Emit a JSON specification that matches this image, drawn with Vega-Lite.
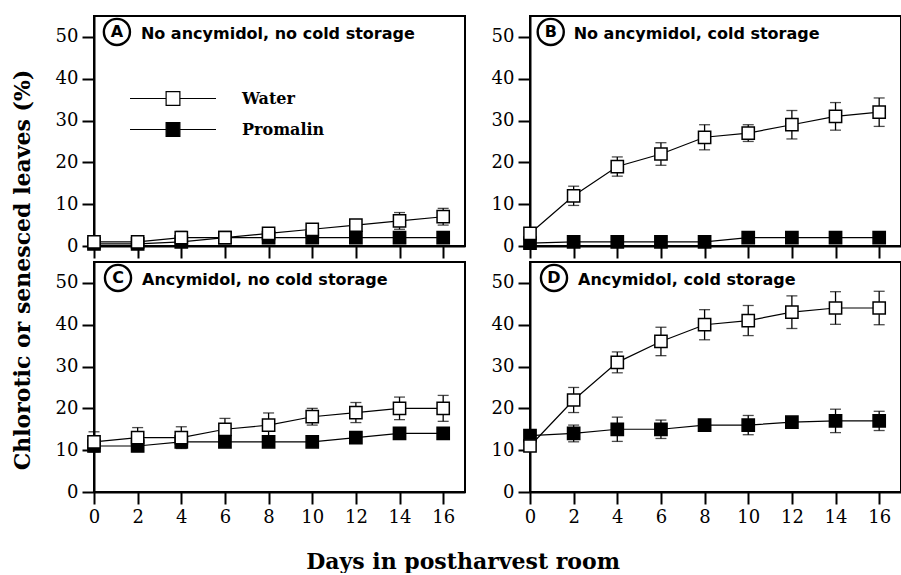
{
  "$schema": "https://vega.github.io/schema/vega-lite/v6.json",
  "background": "white",
  "padding": {"left": 12, "top": 13, "right": 0, "bottom": 0},
  "title": {"text": "Days in postharvest room", "orient": "bottom", "anchor": "middle", "font": "DejaVu Serif", "fontSize": 22, "fontWeight": "bold", "color": "black", "offset": 25, "dx": 6},
  "hconcat": [
    {
      "title": {"text": "Chlorotic or senesced leaves (%)", "orient": "left", "anchor": "middle", "font": "DejaVu Serif", "fontSize": 22, "fontWeight": "bold", "color": "black", "offset": 19},
      "columns": 2,
      "bounds": "flush",
      "spacing": {"row": 16, "column": 65},
      "resolve": {"scale": {"fill": "independent"}, "legend": {"fill": "independent"}},
      "concat": [
        {
          "width": 371, "height": 230,
          "layer": [
            {"data": {"name": "obs"}, "transform": [{"filter": "datum.panel === 'A'"}],
             "mark": {"type": "errorbar", "ticks": {"size": 11, "thickness": 1.3}, "thickness": 1.3, "color": "black"},
             "encoding": {
               "x": {"field": "day", "type": "quantitative", "scale": {"domain": [0, 17], "nice": false, "zero": false}, "axis": {"values": [0, 2, 4, 6, 8, 10, 12, 14, 16], "labels": false, "title": null, "labelFlush": false, "labelFont": "DejaVu Serif", "labelFontSize": 18}},
               "y": {"field": "mean", "type": "quantitative", "scale": {"domain": [0, 55], "nice": false}, "axis": {"values": [0, 10, 20, 30, 40, 50], "title": null, "labelFlush": false, "labelOverlap": false, "labelFont": "DejaVu Serif", "labelFontSize": 18}},
               "yError": {"field": "err"}}},
            {"data": {"name": "obs"}, "transform": [{"filter": "datum.panel === 'A'"}],
             "mark": {"type": "line", "color": "black", "strokeWidth": 1.2},
             "encoding": {"x": {"field": "day", "type": "quantitative"}, "y": {"field": "mean", "type": "quantitative"}, "detail": {"field": "treatment"}}},
            {"data": {"name": "obs"}, "transform": [{"filter": "datum.panel === 'A'"}],
             "mark": {"type": "point", "shape": "square", "size": 150, "filled": true, "opacity": 1, "stroke": "black", "strokeWidth": 1.5},
             "encoding": {"x": {"field": "day", "type": "quantitative"}, "y": {"field": "mean", "type": "quantitative"},
               "fill": {"field": "treatment", "type": "nominal", "scale": {"domain": ["Water", "Promalin"], "range": ["white", "black"]},
                 "legend": {"orient": "none", "legendX": 35, "legendY": 74, "title": null, "symbolType": "M-1,0H-0.16M0.16,0H1M-0.16,-0.16H0.16V0.16H-0.16Z", "symbolSize": 7400, "symbolStrokeColor": "black", "symbolStrokeWidth": 1.2, "symbolOpacity": 1, "clipHeight": 17, "labelFont": "DejaVu Serif", "labelFontWeight": "bold", "labelFontSize": 16, "labelColor": "black", "labelOffset": 25, "rowPadding": 14}}}},
            {"data": {"name": "panels"}, "transform": [{"filter": "datum.panel === 'A'"}],
             "mark": {"type": "point", "shape": "circle", "size": 680, "filled": false, "opacity": 1, "stroke": "black", "strokeWidth": 2.4},
             "encoding": {"x": {"datum": 1.05}, "y": {"datum": 51.2}}},
            {"data": {"name": "panels"}, "transform": [{"filter": "datum.panel === 'A'"}],
             "mark": {"type": "text", "font": "DejaVu Sans", "fontWeight": "bold", "fontSize": 16, "align": "center", "baseline": "middle", "color": "black"},
             "encoding": {"x": {"datum": 1.05}, "y": {"datum": 51.2}, "text": {"field": "letter"}}},
            {"data": {"name": "panels"}, "transform": [{"filter": "datum.panel === 'A'"}],
             "mark": {"type": "text", "font": "DejaVu Sans", "fontWeight": "bold", "fontSize": 16, "align": "left", "baseline": "alphabetic", "color": "black"},
             "encoding": {"x": {"datum": 2.15}, "y": {"datum": 49.5}, "text": {"field": "label"}}}
          ]
        },
        {
          "width": 371, "height": 230,
          "layer": [
            {"data": {"name": "obs"}, "transform": [{"filter": "datum.panel === 'B'"}],
             "mark": {"type": "errorbar", "ticks": {"size": 11, "thickness": 1.3}, "thickness": 1.3, "color": "black"},
             "encoding": {
               "x": {"field": "day", "type": "quantitative", "scale": {"domain": [0, 17], "nice": false, "zero": false}, "axis": {"values": [0, 2, 4, 6, 8, 10, 12, 14, 16], "labels": false, "title": null, "labelFlush": false, "labelFont": "DejaVu Serif", "labelFontSize": 18}},
               "y": {"field": "mean", "type": "quantitative", "scale": {"domain": [0, 55], "nice": false}, "axis": {"values": [0, 10, 20, 30, 40, 50], "title": null, "labelFlush": false, "labelOverlap": false, "labelFont": "DejaVu Serif", "labelFontSize": 18}},
               "yError": {"field": "err"}}},
            {"data": {"name": "obs"}, "transform": [{"filter": "datum.panel === 'B'"}],
             "mark": {"type": "line", "color": "black", "strokeWidth": 1.2},
             "encoding": {"x": {"field": "day", "type": "quantitative"}, "y": {"field": "mean", "type": "quantitative"}, "detail": {"field": "treatment"}}},
            {"data": {"name": "obs"}, "transform": [{"filter": "datum.panel === 'B'"}],
             "mark": {"type": "point", "shape": "square", "size": 150, "filled": true, "opacity": 1, "stroke": "black", "strokeWidth": 1.5},
             "encoding": {"x": {"field": "day", "type": "quantitative"}, "y": {"field": "mean", "type": "quantitative"},
               "fill": {"field": "treatment", "type": "nominal", "scale": {"domain": ["Water", "Promalin"], "range": ["white", "black"]}, "legend": null}}},
            {"data": {"name": "panels"}, "transform": [{"filter": "datum.panel === 'B'"}],
             "mark": {"type": "point", "shape": "circle", "size": 680, "filled": false, "opacity": 1, "stroke": "black", "strokeWidth": 2.4},
             "encoding": {"x": {"datum": 0.95}, "y": {"datum": 51.2}}},
            {"data": {"name": "panels"}, "transform": [{"filter": "datum.panel === 'B'"}],
             "mark": {"type": "text", "font": "DejaVu Sans", "fontWeight": "bold", "fontSize": 16, "align": "center", "baseline": "middle", "color": "black"},
             "encoding": {"x": {"datum": 0.95}, "y": {"datum": 51.2}, "text": {"field": "letter"}}},
            {"data": {"name": "panels"}, "transform": [{"filter": "datum.panel === 'B'"}],
             "mark": {"type": "text", "font": "DejaVu Sans", "fontWeight": "bold", "fontSize": 16, "align": "left", "baseline": "alphabetic", "color": "black"},
             "encoding": {"x": {"datum": 2.0}, "y": {"datum": 49.5}, "text": {"field": "label"}}}
          ]
        },
        {
          "width": 371, "height": 230,
          "layer": [
            {"data": {"name": "obs"}, "transform": [{"filter": "datum.panel === 'C'"}],
             "mark": {"type": "errorbar", "ticks": {"size": 11, "thickness": 1.3}, "thickness": 1.3, "color": "black"},
             "encoding": {
               "x": {"field": "day", "type": "quantitative", "scale": {"domain": [0, 17], "nice": false, "zero": false}, "axis": {"values": [0, 2, 4, 6, 8, 10, 12, 14, 16], "labels": true, "title": null, "labelFlush": false, "labelFont": "DejaVu Serif", "labelFontSize": 18}},
               "y": {"field": "mean", "type": "quantitative", "scale": {"domain": [0, 55], "nice": false}, "axis": {"values": [0, 10, 20, 30, 40, 50], "title": null, "labelFlush": false, "labelOverlap": false, "labelFont": "DejaVu Serif", "labelFontSize": 18}},
               "yError": {"field": "err"}}},
            {"data": {"name": "obs"}, "transform": [{"filter": "datum.panel === 'C'"}],
             "mark": {"type": "line", "color": "black", "strokeWidth": 1.2},
             "encoding": {"x": {"field": "day", "type": "quantitative"}, "y": {"field": "mean", "type": "quantitative"}, "detail": {"field": "treatment"}}},
            {"data": {"name": "obs"}, "transform": [{"filter": "datum.panel === 'C'"}],
             "mark": {"type": "point", "shape": "square", "size": 150, "filled": true, "opacity": 1, "stroke": "black", "strokeWidth": 1.5},
             "encoding": {"x": {"field": "day", "type": "quantitative"}, "y": {"field": "mean", "type": "quantitative"},
               "fill": {"field": "treatment", "type": "nominal", "scale": {"domain": ["Water", "Promalin"], "range": ["white", "black"]}, "legend": null}}},
            {"data": {"name": "panels"}, "transform": [{"filter": "datum.panel === 'C'"}],
             "mark": {"type": "point", "shape": "circle", "size": 680, "filled": false, "opacity": 1, "stroke": "black", "strokeWidth": 2.4},
             "encoding": {"x": {"datum": 1.1}, "y": {"datum": 51.2}}},
            {"data": {"name": "panels"}, "transform": [{"filter": "datum.panel === 'C'"}],
             "mark": {"type": "text", "font": "DejaVu Sans", "fontWeight": "bold", "fontSize": 16, "align": "center", "baseline": "middle", "color": "black"},
             "encoding": {"x": {"datum": 1.1}, "y": {"datum": 51.2}, "text": {"field": "letter"}}},
            {"data": {"name": "panels"}, "transform": [{"filter": "datum.panel === 'C'"}],
             "mark": {"type": "text", "font": "DejaVu Sans", "fontWeight": "bold", "fontSize": 16, "align": "left", "baseline": "alphabetic", "color": "black"},
             "encoding": {"x": {"datum": 2.2}, "y": {"datum": 49.5}, "text": {"field": "label"}}}
          ]
        },
        {
          "width": 371, "height": 230,
          "layer": [
            {"data": {"name": "obs"}, "transform": [{"filter": "datum.panel === 'D'"}],
             "mark": {"type": "errorbar", "ticks": {"size": 11, "thickness": 1.3}, "thickness": 1.3, "color": "black"},
             "encoding": {
               "x": {"field": "day", "type": "quantitative", "scale": {"domain": [0, 17], "nice": false, "zero": false}, "axis": {"values": [0, 2, 4, 6, 8, 10, 12, 14, 16], "labels": true, "title": null, "labelFlush": false, "labelFont": "DejaVu Serif", "labelFontSize": 18}},
               "y": {"field": "mean", "type": "quantitative", "scale": {"domain": [0, 55], "nice": false}, "axis": {"values": [0, 10, 20, 30, 40, 50], "title": null, "labelFlush": false, "labelOverlap": false, "labelFont": "DejaVu Serif", "labelFontSize": 18}},
               "yError": {"field": "err"}}},
            {"data": {"name": "obs"}, "transform": [{"filter": "datum.panel === 'D'"}],
             "mark": {"type": "line", "color": "black", "strokeWidth": 1.2},
             "encoding": {"x": {"field": "day", "type": "quantitative"}, "y": {"field": "mean", "type": "quantitative"}, "detail": {"field": "treatment"}}},
            {"data": {"name": "obs"}, "transform": [{"filter": "datum.panel === 'D'"}],
             "mark": {"type": "point", "shape": "square", "size": 150, "filled": true, "opacity": 1, "stroke": "black", "strokeWidth": 1.5},
             "encoding": {"x": {"field": "day", "type": "quantitative"}, "y": {"field": "mean", "type": "quantitative"},
               "fill": {"field": "treatment", "type": "nominal", "scale": {"domain": ["Water", "Promalin"], "range": ["white", "black"]}, "legend": null}}},
            {"data": {"name": "panels"}, "transform": [{"filter": "datum.panel === 'D'"}],
             "mark": {"type": "point", "shape": "circle", "size": 680, "filled": false, "opacity": 1, "stroke": "black", "strokeWidth": 2.4},
             "encoding": {"x": {"datum": 1.1}, "y": {"datum": 51.2}}},
            {"data": {"name": "panels"}, "transform": [{"filter": "datum.panel === 'D'"}],
             "mark": {"type": "text", "font": "DejaVu Sans", "fontWeight": "bold", "fontSize": 16, "align": "center", "baseline": "middle", "color": "black"},
             "encoding": {"x": {"datum": 1.1}, "y": {"datum": 51.2}, "text": {"field": "letter"}}},
            {"data": {"name": "panels"}, "transform": [{"filter": "datum.panel === 'D'"}],
             "mark": {"type": "text", "font": "DejaVu Sans", "fontWeight": "bold", "fontSize": 16, "align": "left", "baseline": "alphabetic", "color": "black"},
             "encoding": {"x": {"datum": 2.2}, "y": {"datum": 49.5}, "text": {"field": "label"}}}
          ]
        }
      ]
    }
  ],
  "config": {
    "view": {"stroke": "black", "strokeWidth": 2},
    "axis": {"domainColor": "black", "domainWidth": 2, "tickColor": "black", "tickWidth": 2, "tickSize": 12, "labelFont": "DejaVu Serif", "labelFontSize": 18, "labelColor": "black", "labelPadding": 4, "grid": false}
  },
  "datasets": {
    "panels": [
      {"panel": "A", "letter": "A", "label": "No ancymidol, no cold storage"},
      {"panel": "B", "letter": "B", "label": "No ancymidol, cold storage"},
      {"panel": "C", "letter": "C", "label": "Ancymidol, no cold storage"},
      {"panel": "D", "letter": "D", "label": "Ancymidol, cold storage"}
    ],
    "obs": [
      {"panel": "A", "treatment": "Promalin", "day": 0, "mean": 0.5, "err": 0},
      {"panel": "A", "treatment": "Promalin", "day": 2, "mean": 0.5, "err": 0},
      {"panel": "A", "treatment": "Promalin", "day": 4, "mean": 1, "err": 0},
      {"panel": "A", "treatment": "Promalin", "day": 6, "mean": 2, "err": 0},
      {"panel": "A", "treatment": "Promalin", "day": 8, "mean": 2, "err": 0},
      {"panel": "A", "treatment": "Promalin", "day": 10, "mean": 2, "err": 0},
      {"panel": "A", "treatment": "Promalin", "day": 12, "mean": 2, "err": 0},
      {"panel": "A", "treatment": "Promalin", "day": 14, "mean": 2, "err": 0},
      {"panel": "A", "treatment": "Promalin", "day": 16, "mean": 2, "err": 0},
      {"panel": "A", "treatment": "Water", "day": 0, "mean": 1, "err": 0},
      {"panel": "A", "treatment": "Water", "day": 2, "mean": 1, "err": 0},
      {"panel": "A", "treatment": "Water", "day": 4, "mean": 2, "err": 1.5},
      {"panel": "A", "treatment": "Water", "day": 6, "mean": 2, "err": 1},
      {"panel": "A", "treatment": "Water", "day": 8, "mean": 3, "err": 1},
      {"panel": "A", "treatment": "Water", "day": 10, "mean": 4, "err": 1},
      {"panel": "A", "treatment": "Water", "day": 12, "mean": 5, "err": 1},
      {"panel": "A", "treatment": "Water", "day": 14, "mean": 6, "err": 2},
      {"panel": "A", "treatment": "Water", "day": 16, "mean": 7, "err": 2},
      {"panel": "B", "treatment": "Promalin", "day": 0, "mean": 0.7, "err": 0},
      {"panel": "B", "treatment": "Promalin", "day": 2, "mean": 1, "err": 0},
      {"panel": "B", "treatment": "Promalin", "day": 4, "mean": 1, "err": 0},
      {"panel": "B", "treatment": "Promalin", "day": 6, "mean": 1, "err": 0},
      {"panel": "B", "treatment": "Promalin", "day": 8, "mean": 1, "err": 0},
      {"panel": "B", "treatment": "Promalin", "day": 10, "mean": 2, "err": 0},
      {"panel": "B", "treatment": "Promalin", "day": 12, "mean": 2, "err": 0},
      {"panel": "B", "treatment": "Promalin", "day": 14, "mean": 2, "err": 0},
      {"panel": "B", "treatment": "Promalin", "day": 16, "mean": 2, "err": 0},
      {"panel": "B", "treatment": "Water", "day": 0, "mean": 3, "err": 0},
      {"panel": "B", "treatment": "Water", "day": 2, "mean": 12, "err": 2.3},
      {"panel": "B", "treatment": "Water", "day": 4, "mean": 19, "err": 2.3},
      {"panel": "B", "treatment": "Water", "day": 6, "mean": 22, "err": 2.7},
      {"panel": "B", "treatment": "Water", "day": 8, "mean": 26, "err": 3},
      {"panel": "B", "treatment": "Water", "day": 10, "mean": 27, "err": 2},
      {"panel": "B", "treatment": "Water", "day": 12, "mean": 29, "err": 3.4},
      {"panel": "B", "treatment": "Water", "day": 14, "mean": 31, "err": 3.3},
      {"panel": "B", "treatment": "Water", "day": 16, "mean": 32, "err": 3.4},
      {"panel": "C", "treatment": "Promalin", "day": 0, "mean": 11, "err": 0},
      {"panel": "C", "treatment": "Promalin", "day": 2, "mean": 11, "err": 0},
      {"panel": "C", "treatment": "Promalin", "day": 4, "mean": 12, "err": 0},
      {"panel": "C", "treatment": "Promalin", "day": 6, "mean": 12, "err": 0},
      {"panel": "C", "treatment": "Promalin", "day": 8, "mean": 12, "err": 0},
      {"panel": "C", "treatment": "Promalin", "day": 10, "mean": 12, "err": 0},
      {"panel": "C", "treatment": "Promalin", "day": 12, "mean": 13, "err": 0},
      {"panel": "C", "treatment": "Promalin", "day": 14, "mean": 14, "err": 0},
      {"panel": "C", "treatment": "Promalin", "day": 16, "mean": 14, "err": 0},
      {"panel": "C", "treatment": "Water", "day": 0, "mean": 12, "err": 2.4},
      {"panel": "C", "treatment": "Water", "day": 2, "mean": 13, "err": 2.4},
      {"panel": "C", "treatment": "Water", "day": 4, "mean": 13, "err": 2.6},
      {"panel": "C", "treatment": "Water", "day": 6, "mean": 15, "err": 2.6},
      {"panel": "C", "treatment": "Water", "day": 8, "mean": 16, "err": 2.9},
      {"panel": "C", "treatment": "Water", "day": 10, "mean": 18, "err": 2},
      {"panel": "C", "treatment": "Water", "day": 12, "mean": 19, "err": 2.4},
      {"panel": "C", "treatment": "Water", "day": 14, "mean": 20, "err": 2.7},
      {"panel": "C", "treatment": "Water", "day": 16, "mean": 20, "err": 3.1},
      {"panel": "D", "treatment": "Promalin", "day": 0, "mean": 13.5, "err": 0},
      {"panel": "D", "treatment": "Promalin", "day": 2, "mean": 14, "err": 2},
      {"panel": "D", "treatment": "Promalin", "day": 4, "mean": 15, "err": 2.9},
      {"panel": "D", "treatment": "Promalin", "day": 6, "mean": 15, "err": 2.2},
      {"panel": "D", "treatment": "Promalin", "day": 8, "mean": 16, "err": 1},
      {"panel": "D", "treatment": "Promalin", "day": 10, "mean": 16, "err": 2.3},
      {"panel": "D", "treatment": "Promalin", "day": 12, "mean": 16.7, "err": 1},
      {"panel": "D", "treatment": "Promalin", "day": 14, "mean": 17, "err": 2.8},
      {"panel": "D", "treatment": "Promalin", "day": 16, "mean": 17, "err": 2.3},
      {"panel": "D", "treatment": "Water", "day": 0, "mean": 11, "err": 0},
      {"panel": "D", "treatment": "Water", "day": 2, "mean": 22, "err": 3},
      {"panel": "D", "treatment": "Water", "day": 4, "mean": 31, "err": 2.5},
      {"panel": "D", "treatment": "Water", "day": 6, "mean": 36, "err": 3.4},
      {"panel": "D", "treatment": "Water", "day": 8, "mean": 40, "err": 3.6},
      {"panel": "D", "treatment": "Water", "day": 10, "mean": 41, "err": 3.6},
      {"panel": "D", "treatment": "Water", "day": 12, "mean": 43, "err": 3.9},
      {"panel": "D", "treatment": "Water", "day": 14, "mean": 44, "err": 3.9},
      {"panel": "D", "treatment": "Water", "day": 16, "mean": 44, "err": 4}
    ]
  }
}
